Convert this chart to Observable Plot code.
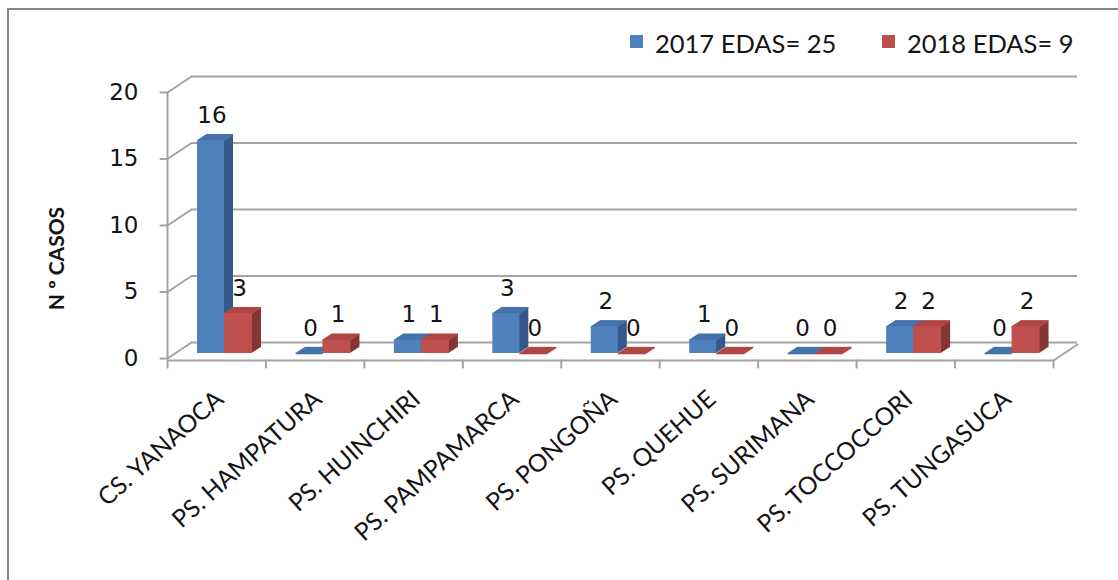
<!DOCTYPE html>
<html>
<head>
<meta charset="utf-8">
<script src="https://cdn.jsdelivr.net/npm/d3@7"></script>
<script src="https://cdn.jsdelivr.net/npm/@observablehq/plot@0.6"></script>
<style>
  html, body { margin: 0; padding: 0; background: #fff; overflow: hidden; }
  #page { position: relative; width: 1118px; height: 580px; overflow: hidden; background: #fff; }
  #border { position: absolute; left: 7px; top: 8px; width: 1300px; height: 800px; border: 2px solid #878787; box-sizing: border-box; pointer-events: none; }
  #legend { position: relative; height: 70px; font-family: Lato, "Open Sans", sans-serif; font-size: 25.5px; color: #141414; }
  #legend .sw { position: absolute; top: 35px; width: 13px; height: 13px; }
  #legend .lb { position: absolute; top: 31px; line-height: 25px; white-space: nowrap; }
  #chart svg { display: block; }
</style>
</head>
<body>
<div id="page">
  <div id="border"></div>
  <div id="legend"></div>
  <div id="chart"></div>
</div>
<script>
// ---------- data ----------
const categories = ["CS. YANAOCA", "PS. HAMPATURA", "PS. HUINCHIRI", "PS. PAMPAMARCA", "PS. PONGOÑA", "PS. QUEHUE", "PS. SURIMANA", "PS. TOCCOCCORI", "PS. TUNGASUCA"];
const cases2017 = [16, 0, 1, 3, 2, 1, 0, 2, 0];
const cases2018 = [3, 1, 1, 0, 0, 0, 0, 2, 2];
const seriesNames = ["2017 EDAS= 25", "2018 EDAS= 9"];
const yTicks = [0, 5, 10, 15, 20];
const yTitle = "N º CASOS";

// ---------- layout / style ----------
const W = 1118, H = 510;
const mL = 167, mR = 65, mT = 22, mB = 222;
const bw = (W - mL - mR) / categories.length;
const gridColor = "#a3a3a3";
const depthX = 24, depthY = -16;          // back wall offset
const barLift = -5;                        // bar front plane above front floor edge
const barDepth = 9, barSlope = 0.65;

const seriesStyle = [
  { front: "#4F81BD", top: "#4673AC", side: "#35598A", left: 30, right: 57 },
  { front: "#C0504D", top: "#AF4744", side: "#843634", left: 57, right: 85 }
];
const seriesValues = [cases2017, cases2018];

const rowsBySeries = seriesValues.map((vals, s) =>
  categories.map((c, i) => ({ cat: c, series: seriesNames[s], value: vals[i] }))
);

// legend (HTML, above the svg)
const legend = document.getElementById("legend");
const legendPos = [{ sw: 630, lb: 655 }, { sw: 882, lb: 907 }];
seriesNames.forEach((n, s) => {
  const sw = document.createElement("div");
  sw.className = "sw";
  sw.style.left = legendPos[s].sw + "px";
  sw.style.background = seriesStyle[s].front;
  legend.appendChild(sw);
  const lb = document.createElement("div");
  lb.className = "lb";
  lb.style.left = legendPos[s].lb + "px";
  lb.textContent = n;
  legend.appendChild(lb);
});

const lineShape = { draw(context, l) { context.moveTo(0, 0); context.lineTo(0, -l); } };
const diagLen = Math.hypot(depthX, depthY);
const diagAngle = Math.atan2(depthX, -depthY) * 180 / Math.PI;

const marks = [];

// back wall gridlines
marks.push(Plot.ruleY(yTicks, { y: d => d, dx: depthX, dy: depthY, stroke: gridColor, strokeWidth: 2 }));
// side wall diagonals
marks.push(Plot.vector(yTicks, { y: d => d, frameAnchor: "left", anchor: "start", length: diagLen, rotate: diagAngle, shape: lineShape, stroke: gridColor, strokeWidth: 2 }));
// floor right diagonal
marks.push(Plot.vector([0], { y: d => d, frameAnchor: "right", anchor: "start", dy: 2, length: diagLen, rotate: diagAngle, shape: lineShape, stroke: gridColor, strokeWidth: 2 }));
// front floor edge
marks.push(Plot.ruleY([0], { y: d => d, dy: 2, stroke: gridColor, strokeWidth: 2 }));
// front y axis line
marks.push(Plot.ruleX([categories[0]], { x: d => d, dx: -bw / 2, y1: 0, y2: 20, stroke: gridColor, strokeWidth: 2 }));
// y ticks
marks.push(Plot.vector(yTicks, { y: d => d, frameAnchor: "left", anchor: "start", length: 7, rotate: 270, shape: lineShape, stroke: gridColor, strokeWidth: 2 }));
// x boundary ticks
marks.push(Plot.vector(categories, { x: d => d, y: () => 0, dx: -bw / 2, dy: 2, anchor: "start", length: 7, rotate: 180, shape: lineShape, stroke: gridColor, strokeWidth: 2 }));
marks.push(Plot.vector([categories[categories.length - 1]], { x: d => d, y: () => 0, dx: bw / 2, dy: 2, anchor: "start", length: 7, rotate: 180, shape: lineShape, stroke: gridColor, strokeWidth: 2 }));

// 3D bars
seriesStyle.forEach((st, s) => {
  const rows = rowsBySeries[s];
  const insetLeft = st.left, insetRight = bw - st.right;
  for (let k = barDepth; k >= 1; k--) {
    marks.push(Plot.barY(rows, { x: "cat", y: "value", fill: st.side, insetLeft, insetRight, dx: k, dy: barLift - barSlope * k }));
  }
  for (let k = barDepth; k >= 0; k--) {
    marks.push(Plot.tickY(rows, { x: "cat", y: "value", stroke: st.top, strokeWidth: 1.6, insetLeft, insetRight, dx: k, dy: barLift - barSlope * k }));
  }
  marks.push(Plot.barY(rows, { x: "cat", y: "value", fill: st.front, insetLeft, insetRight, dy: barLift }));
});

// data labels
seriesStyle.forEach((st, s) => {
  const center = (st.left + st.right) / 2 - bw / 2 + 1;
  marks.push(Plot.text(rowsBySeries[s], { x: "cat", y: "value", text: d => String(d.value), dx: center, dy: barLift - 18, lineAnchor: "bottom", fontSize: 23, fontFamily: "DejaVu Sans", fill: "#141414" }));
});

// y tick labels
marks.push(Plot.text(yTicks, { y: d => d, text: d => String(d), frameAnchor: "left", dx: -29, textAnchor: "end", fontSize: 23, fontFamily: "DejaVu Sans", fill: "#141414" }));

// category labels
marks.push(Plot.text(categories, { x: d => d, y: () => 0, text: d => d, rotate: -42, textAnchor: "end", dx: 3, dy: 37, fontSize: 24.5, fontFamily: "Lato", fill: "#141414" }));

// y title
marks.push(Plot.text([yTitle], { text: d => d, frameAnchor: "left", textAnchor: "middle", rotate: -90, dx: -110, dy: 33, fontSize: 21, fontWeight: "bold", fontFamily: "Lato", fill: "#141414" }));

const chart = Plot.plot({
  width: W, height: H,
  marginLeft: mL, marginRight: mR, marginTop: mT, marginBottom: mB,
  x: { type: "band", domain: categories, padding: 0, round: false, axis: null },
  y: { domain: [0, 20], axis: null },
  style: { background: "transparent", overflow: "visible" },
  marks
});
document.getElementById("chart").appendChild(chart);
</script>
</body>
</html>
